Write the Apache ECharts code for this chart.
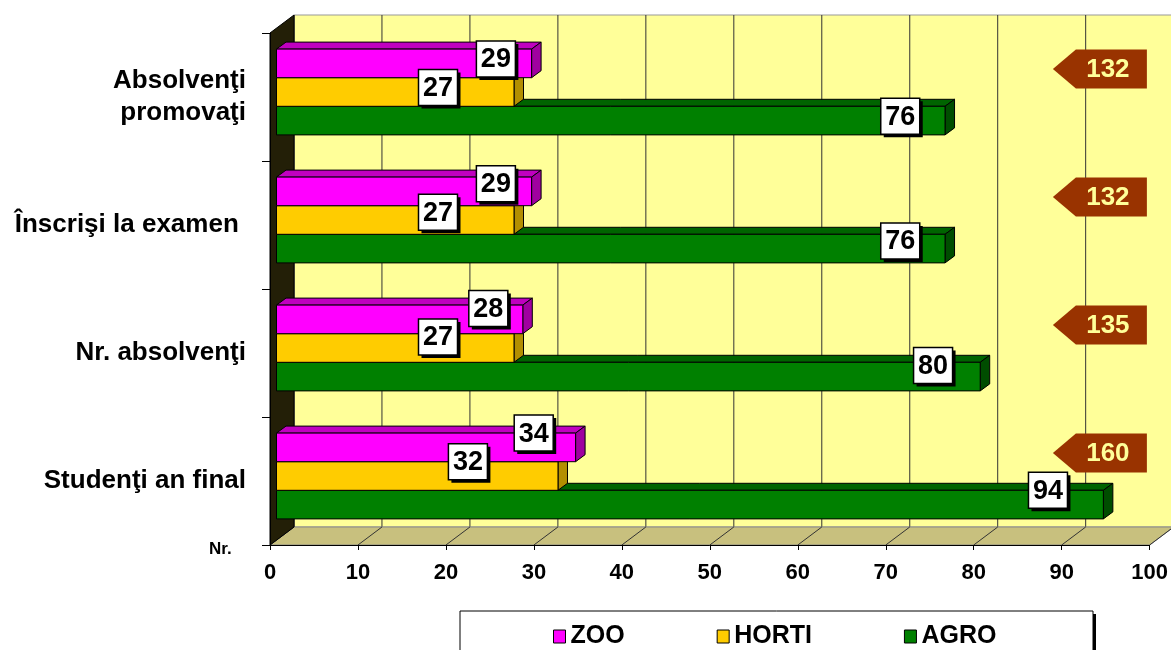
<!DOCTYPE html>
<html>
<head>
<meta charset="utf-8">
<script src="https://cdn.jsdelivr.net/npm/echarts@6/dist/echarts.min.js"></script>
<style>
html, body { margin: 0; padding: 0; background: #fff; }
#main { width: 1171px; height: 650px; }
</style>
</head>
<body>
<div id="main"></div>
<script>
// date (de jos in sus)
var categories = ['Studenţi an final', 'Nr. absolvenţi', 'Înscrişi la examen ', 'Absolvenţi\npromovaţi'];
var zoo = [34, 28, 29, 29];
var horti = [32, 27, 27, 27];
var agro = [94, 80, 76, 76];
var totals = [160, 135, 132, 132];
var xTicks = [0, 10, 20, 30, 40, 50, 60, 70, 80, 90, 100];

var FONT = "'Liberation Sans', Arial, sans-serif";
var WALL = { dx: 24, dy: -18 };      // adancimea peretilor
var SHIFT = { dx: 6.5, dy: -5 };     // planul barelor
var BD = { dx: 9.5, dy: -7 };        // adancimea barelor
var BAR_H = 28.6;
var TOTAL_AT = 89;

var myChart = echarts.init(document.getElementById('main'));

function pairs(arr) {
    return arr.map(function (v, i) { return [v, i]; });
}

// peretii, podeaua si liniile de grila
function renderFrame(params, api) {
    var cs = params.coordSys;
    var x0 = cs.x, y0 = cs.y, w = cs.width, h = cs.height;
    var ch = [];
    ch.push({ type: 'rect', shape: { x: x0 + WALL.dx, y: y0 + WALL.dy, width: w, height: h },
        style: { fill: '#FFFF99', stroke: '#999', lineWidth: 1 } });
    xTicks.forEach(function (t) {
        var x = api.coord([t, 0])[0];
        ch.push({ type: 'line', shape: { x1: x + WALL.dx, y1: y0 + WALL.dy, x2: x + WALL.dx, y2: y0 + h + WALL.dy },
            style: { stroke: '#333', lineWidth: 1 } });
    });
    ch.push({ type: 'polygon', shape: { points: [[x0, y0 + h], [x0 + WALL.dx, y0 + h + WALL.dy], [x0 + w + WALL.dx, y0 + h + WALL.dy], [x0 + w, y0 + h]] },
        style: { fill: '#C8C07E', stroke: '#888', lineWidth: 1 } });
    xTicks.forEach(function (t) {
        var x = api.coord([t, 0])[0];
        ch.push({ type: 'line', shape: { x1: x, y1: y0 + h, x2: x + WALL.dx, y2: y0 + h + WALL.dy },
            style: { stroke: '#333', lineWidth: 1 } });
    });
    ch.push({ type: 'polygon', shape: { points: [[x0, y0], [x0 + WALL.dx, y0 + WALL.dy], [x0 + WALL.dx, y0 + h + WALL.dy], [x0, y0 + h]] },
        style: { fill: '#231F07', stroke: '#000', lineWidth: 1 } });
    return { type: 'group', children: ch };
}

function barSeries(name, data, slot, front, top, side) {
    return {
        name: name,
        type: 'custom',
        z: 2,
        itemStyle: { color: front },
        encode: { x: 0, y: 1 },
        data: pairs(data),
        renderItem: function (params, api) {
            var v = api.value(0), idx = api.value(1);
            var a = api.coord([0, idx]), b = api.coord([v, idx]);
            var x0 = a[0] + SHIFT.dx, x1 = b[0] + SHIFT.dx;
            var yt = a[1] + SHIFT.dy - 1.5 * BAR_H + slot * BAR_H;
            var yb = yt + BAR_H;
            return { type: 'group', children: [
                { type: 'polygon', shape: { points: [[x0, yt], [x0 + BD.dx, yt + BD.dy], [x1 + BD.dx, yt + BD.dy], [x1, yt]] },
                    style: { fill: top, stroke: '#000', lineWidth: 1 } },
                { type: 'polygon', shape: { points: [[x1, yt], [x1 + BD.dx, yt + BD.dy], [x1 + BD.dx, yb + BD.dy], [x1, yb]] },
                    style: { fill: side, stroke: '#000', lineWidth: 1 } },
                { type: 'rect', shape: { x: x0, y: yt, width: x1 - x0, height: BAR_H },
                    style: { fill: front, stroke: '#000', lineWidth: 1 } }
            ] };
        }
    };
}

function labelSeries(name, data, slot, frac) {
    return {
        name: name + '-label',
        type: 'custom',
        z: 5,
        encode: { x: 0, y: 1 },
        data: pairs(data),
        renderItem: function (params, api) {
            var v = api.value(0), idx = api.value(1);
            var a = api.coord([0, idx]);
            var cx = api.coord([v * frac, idx])[0] + SHIFT.dx;
            var cy = a[1] + SHIFT.dy - 1.5 * BAR_H + slot * BAR_H + 3.3 * idx;
            var txt = String(v);
            var bw = 13 * txt.length + 13, bh = 36;
            return { type: 'group', children: [
                { type: 'rect', shape: { x: cx - bw / 2 + 3, y: cy - bh / 2 + 3, width: bw, height: bh },
                    style: { fill: '#000' } },
                { type: 'rect', shape: { x: cx - bw / 2, y: cy - bh / 2, width: bw, height: bh },
                    style: { fill: '#fff', stroke: '#000', lineWidth: 1.5 } },
                { type: 'text', x: cx, y: cy + 1,
                    style: { text: txt, font: 'bold 27px ' + FONT, fill: '#000',
                        align: 'center', verticalAlign: 'middle', textAlign: 'center', textVerticalAlign: 'middle' } }
            ] };
        }
    };
}

option = {
    animation: false,
    backgroundColor: '#fff',
    grid: { left: 270, top: 33, width: 883, height: 512, containLabel: false },
    xAxis: {
        type: 'value', min: 0, max: 100, interval: 10, z: 3,
        axisLine: { show: true, lineStyle: { color: '#000', width: 1 } },
        axisTick: { show: true, length: 5, lineStyle: { color: '#000' } },
        axisLabel: { fontSize: 22, fontWeight: 'bold', color: '#000', margin: 17, fontFamily: FONT },
        splitLine: { show: false }
    },
    yAxis: {
        type: 'category', data: categories, z: 3,
        axisLine: { show: true, lineStyle: { color: '#000', width: 1 } },
        axisTick: { show: true, length: 8, lineStyle: { color: '#000' } },
        axisLabel: { fontSize: 26, fontWeight: 'bold', color: '#000', margin: 24, lineHeight: 32, fontFamily: FONT },
        splitLine: { show: false }
    },
    legend: {
        data: ['ZOO', 'HORTI', 'AGRO'],
        left: 460, top: 611, z: 6,
        itemWidth: 12, itemHeight: 13, itemGap: 92,
        padding: [13, 89, 20, 93],
        icon: 'rect',
        itemStyle: { borderColor: '#000', borderWidth: 1 },
        textStyle: { fontSize: 25, fontWeight: 'bold', color: '#000', fontFamily: FONT },
        selectedMode: false
    },
    graphic: [
        { type: 'rect', z: 1, shape: { x: 463, y: 614, width: 633, height: 60 }, style: { fill: '#000' } },
        { type: 'rect', z: 1, shape: { x: 460, y: 611, width: 633, height: 60 }, style: { fill: '#fff', stroke: '#000', lineWidth: 1 } },
        { type: 'text', left: 209, top: 541, style: { text: 'Nr.', font: 'bold 17px ' + FONT, fill: '#000' } }
    ],
    series: [
        { name: 'frame', type: 'custom', z: 0, silent: true, encode: { x: 0, y: 1 }, data: [[0, 0]], renderItem: renderFrame },
        barSeries('AGRO', agro, 2, '#008000', '#006400', '#004D00'),
        barSeries('HORTI', horti, 1, '#FFCC00', '#CC9900', '#B38F00'),
        barSeries('ZOO', zoo, 0, '#FF00FF', '#C000C0', '#A000A0'),
        {
            name: 'Total', type: 'custom', z: 4, encode: { x: 0, y: 1 },
            data: pairs(totals),
            renderItem: function (params, api) {
                var idx = api.value(1);
                var p = api.coord([TOTAL_AT, idx]);
                var tx = p[0], cy = p[1] - 28, hh = 19.5;
                return { type: 'group', children: [
                    { type: 'polygon', shape: { points: [[tx, cy], [tx + 23, cy - hh], [tx + 94, cy - hh], [tx + 94, cy + hh], [tx + 23, cy + hh]] },
                        style: { fill: '#993300' } },
                    { type: 'text', x: tx + 55, y: cy + 1,
                        style: { text: String(api.value(0)), font: 'bold 26px ' + FONT, fill: '#FFFF99',
                            align: 'center', verticalAlign: 'middle', textAlign: 'center', textVerticalAlign: 'middle' } }
                ] };
            }
        },
        labelSeries('AGRO', agro, 2, 0.933),
        labelSeries('HORTI', horti, 1, 0.68),
        labelSeries('ZOO', zoo, 0, 0.86)
    ]
};

myChart.setOption(option);
</script>
</body>
</html>
